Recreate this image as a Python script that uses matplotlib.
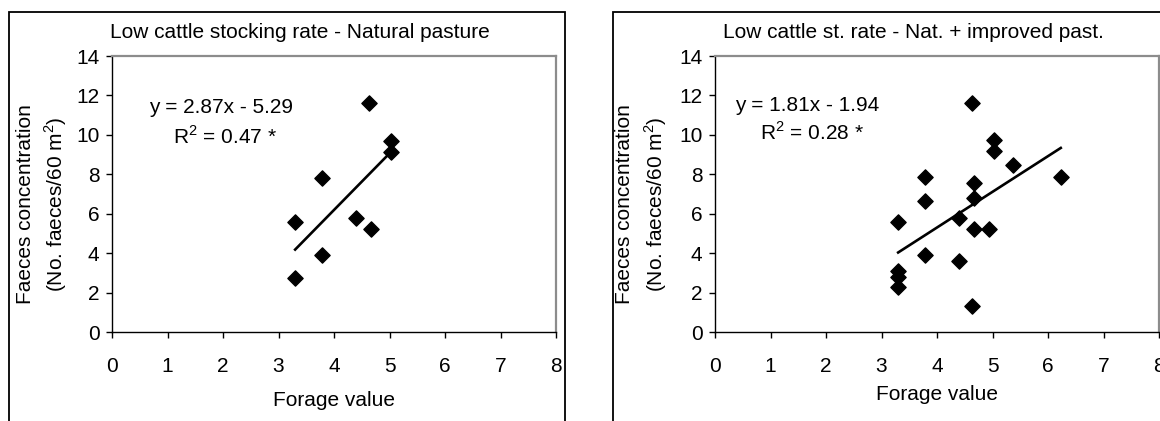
import numpy as np
import matplotlib
matplotlib.use("Agg")
import matplotlib.pyplot as plt
from matplotlib.patches import Rectangle

plt.rcParams['font.family'] = ['Liberation Sans', 'DejaVu Sans']
plt.rcParams['mathtext.fontset'] = 'custom'
plt.rcParams['mathtext.rm'] = 'Liberation Sans'

#   Natural pasture data (forage value, faeces concentration)
natX = [3.3, 3.3, 3.78, 3.78, 4.4, 4.63, 4.67, 5.03, 5.03]
natY = [5.6, 2.75, 7.8, 3.9, 5.8, 11.6, 5.2, 9.7, 9.15]
natSlope = 2.87
natIntercept = -5.29
natEq = "y = 2.87x - 5.29"
natR2 = r"R$^2$ = 0.47 *"

#   Natural + improved pasture data
impX = [3.3, 3.3, 3.3, 3.3, 3.78, 3.78, 3.78, 4.4, 4.4, 4.63, 4.63,
        4.67, 4.67, 4.67, 4.93, 5.03, 5.03, 5.37, 6.23]
impY = [5.6, 3.1, 2.8, 2.3, 7.85, 6.65, 3.9, 5.8, 3.6, 11.6, 1.3,
        7.55, 6.8, 5.2, 5.2, 9.75, 9.2, 8.45, 7.85]
impSlope = 1.81
impIntercept = -1.94
impEq = "y = 1.81x - 1.94"
impR2 = r"R$^2$ = 0.28 *"

titles = ["Low cattle stocking rate - Natural pasture",
          "Low cattle st. rate - Nat. + improved past."]
xTicks = [0, 1, 2, 3, 4, 5, 6, 7, 8]
yTicks = [0, 2, 4, 6, 8, 10, 12, 14]

W, H = 1160, 421
FS = 15
fig = plt.figure(figsize=(W / 100, H / 100), dpi=100)

#   Outer frames of the two panels (bottom edge runs off the picture)
for (bx, bw) in [(9, 556), (613, 600)]:
    fig.patches.append(Rectangle((bx / W, -0.2), bw / W, 1.2 - 12 / H,
                                 transform=fig.transFigure, fill=False,
                                 edgecolor='black', linewidth=1.3))

panels = [
    (112, natX, natY, natSlope, natIntercept, natEq, natR2, (0.67, 11.37), (1.1, 9.9), 300, 401, (26, 56)),
    (715, impX, impY, impSlope, impIntercept, impEq, impR2, (0.36, 11.47), (0.81, 10.1), 913, 395, (624, 656)),
]

for i, (px, xs, ys, m, b, eq, r2, eqPos, r2Pos, titleX, xlabY, ylabX) in enumerate(panels):
    ax = fig.add_axes([px / W, 1 - 332 / H, 444 / W, (332 - 56) / H])
    ax.scatter(xs, ys, marker='D', s=60, color='black', zorder=3, clip_on=False)
    lineX = np.array([min(xs), max(xs)])
    ax.plot(lineX, m * lineX + b, color='black', linewidth=1.9, zorder=2)

    ax.set_xlim(0, 8)
    ax.set_ylim(0, 14)
    ax.set_xticks(xTicks)
    ax.set_yticks(yTicks)
    ax.tick_params(axis='x', direction='out', length=4, width=1, pad=14, labelsize=FS)
    ax.tick_params(axis='y', direction='out', length=4, width=1, pad=5, labelsize=FS)

    for side in ['top', 'right']:
        ax.spines[side].set_color('#8c8c8c')
        ax.spines[side].set_linewidth(1.6)
    for side in ['left', 'bottom']:
        ax.spines[side].set_color('black')
        ax.spines[side].set_linewidth(1.0)

    ax.text(eqPos[0], eqPos[1], eq, fontsize=FS, va='center', ha='left')
    ax.text(r2Pos[0], r2Pos[1], r2, fontsize=FS, va='center', ha='left')

    #   Titles and axis labels placed in pixel positions
    fig.text(titleX / W, 1 - 32 / H, titles[i], fontsize=FS, ha='center', va='center')
    fig.text((px + 222) / W, 1 - xlabY / H, "Forage value", fontsize=FS, ha='center', va='center')
    fig.text(ylabX[0] / W, 1 - 204 / H, "Faeces concentration", fontsize=FS,
             rotation=90, ha='center', va='center')
    fig.text(ylabX[1] / W, 1 - 204 / H, "(No. faeces/60 m$^2$)", fontsize=FS,
             rotation=90, ha='center', va='center')

fig.savefig("out.png", dpi=100)
